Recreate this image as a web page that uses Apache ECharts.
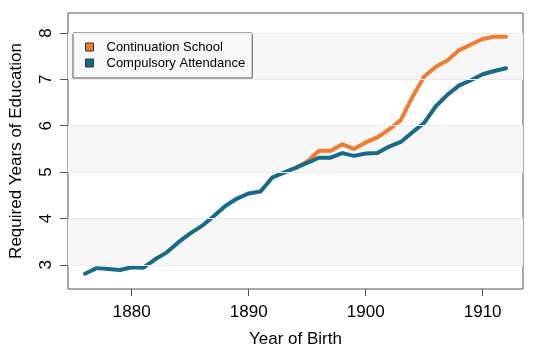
<!DOCTYPE html>
<html>
<head>
<meta charset="utf-8">
<script src="https://cdn.jsdelivr.net/npm/echarts@6/dist/echarts.min.js"></script>
<style>
  html, body { margin: 0; padding: 0; background: #fff; }
  #chart { width: 533px; height: 353px; }
</style>
</head>
<body>
<div id="chart"></div>
<script>
// años de nacimiento
const years = [1876, 1877, 1878, 1879, 1880, 1881, 1882, 1883, 1884, 1885, 1886, 1887, 1888, 1889,
  1890, 1891, 1892, 1893, 1894, 1895, 1896, 1897, 1898, 1899, 1900, 1901, 1902, 1903, 1904,
  1905, 1906, 1907, 1908, 1909, 1910, 1911, 1912]

const compulsory = [2.81, 2.93, 2.91, 2.89, 2.95, 2.94, 3.12, 3.27, 3.49, 3.68, 3.84, 4.05, 4.27, 4.43,
  4.54, 4.58, 4.88, 4.99, 5.09, 5.20, 5.31, 5.31, 5.41, 5.35, 5.40, 5.41, 5.55, 5.65, 5.86,
  6.06, 6.42, 6.67, 6.87, 6.98, 7.11, 7.18, 7.24]

const continuation = [null, null, null, null, null, null, null, null, null, null, null, null, null, null,
  null, null, null, null, 5.09, 5.23, 5.46, 5.46, 5.60, 5.50, 5.64, 5.75, 5.92, 6.12, 6.62,
  7.06, 7.27, 7.41, 7.63, 7.75, 7.87, 7.92, 7.92]

const xTicks = [1880, 1890, 1900, 1910]
const yTicks = [3, 4, 5, 6, 7, 8]
const bands = [[3, 4], [5, 6], [7, 8]]

const font = 'Liberation Sans, Arial, Helvetica, sans-serif'

const chart = echarts.init(document.getElementById('chart'), null, { renderer: 'canvas' })

let option = {
  animation: false,
  grid: {
    left: 68,
    right: 10,
    top: 13,
    bottom: 64,
    show: true,
    borderColor: '#555',
    borderWidth: 1,
    backgroundColor: '#fff'
  },
  legend: {
    left: 73,
    top: 33,
    orient: 'vertical',
    icon: 'rect',
    itemWidth: 8,
    itemHeight: 8,
    itemGap: 2,
    padding: [7, 7, 8, 12],
    backgroundColor: '#f8f8f8',
    borderColor: '#555',
    borderWidth: 1,
    itemStyle: { borderColor: '#333', borderWidth: 1 },
    textStyle: { fontFamily: font, fontSize: 13, color: '#000', lineHeight: 14, padding: [0, 0, 0, 8] },
    data: ['Continuation School', 'Compulsory Attendance']
  },
  xAxis: {
    type: 'value',
    min: 1874.55,
    max: 1913.45,
    name: 'Year of Birth',
    nameLocation: 'middle',
    nameGap: 42,
    nameTextStyle: { fontFamily: font, fontSize: 17, color: '#000' },
    axisLine: { show: false },
    axisTick: { show: true, length: 7, customValues: xTicks, lineStyle: { color: '#555' } },
    axisLabel: {
      customValues: xTicks,
      margin: 15,
      fontFamily: font,
      fontSize: 17,
      color: '#000',
      formatter: v => String(v)
    },
    splitLine: { show: false }
  },
  yAxis: {
    type: 'value',
    min: 2.48,
    max: 8.43,
    name: 'Required Years of Education',
    nameLocation: 'middle',
    nameGap: 43,
    nameTextStyle: { fontFamily: font, fontSize: 17, color: '#000' },
    axisLine: { show: false },
    axisTick: { show: true, length: 8, customValues: yTicks, lineStyle: { color: '#555' } },
    axisLabel: { customValues: yTicks, rotate: 90, margin: 13, fontFamily: font, fontSize: 17, color: '#000' },
    splitLine: { show: false }
  },
  series: [
    {
      name: 'Continuation School',
      type: 'line',
      data: years.map((y, i) => [y, continuation[i]]),
      showSymbol: false,
      symbol: 'none',
      connectNulls: false,
      itemStyle: { color: '#f07c2f' },
      lineStyle: { color: '#f07c2f', width: 4, cap: 'round', join: 'round' },
      markArea: {
        silent: true,
        itemStyle: { color: '#f7f7f7' },
        data: bands.map(b => [{ yAxis: b[0] }, { yAxis: b[1] }])
      },
      markLine: {
        silent: true,
        symbol: 'none',
        label: { show: false },
        lineStyle: { color: '#ebebeb', width: 1, type: 'solid' },
        data: yTicks.map(v => ({ yAxis: v }))
      },
      z: 2
    },
    {
      name: 'Compulsory Attendance',
      type: 'line',
      data: years.map((y, i) => [y, compulsory[i]]),
      showSymbol: false,
      symbol: 'none',
      itemStyle: { color: '#176b88' },
      lineStyle: { color: '#176b88', width: 4, cap: 'round', join: 'round' },
      z: 3
    }
  ]
}

chart.setOption(option)
</script>
</body>
</html>
